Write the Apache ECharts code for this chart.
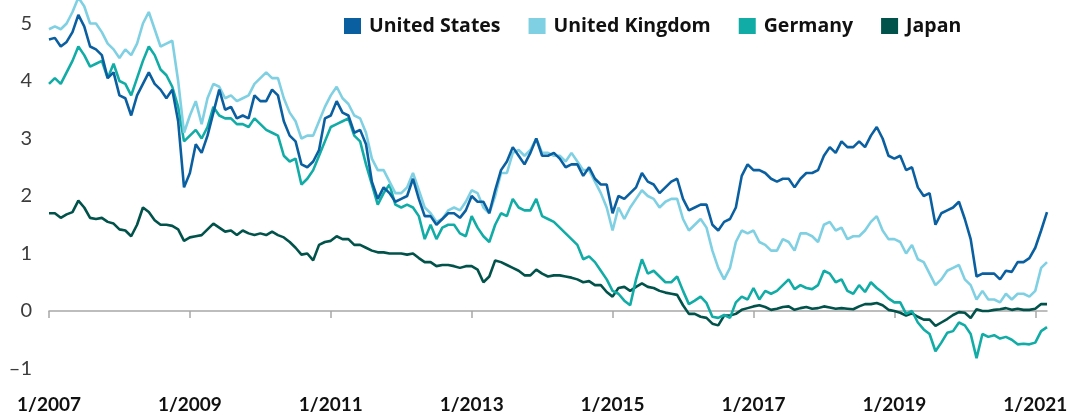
<!DOCTYPE html>
<html>
<head>
<meta charset="utf-8">
<script src="https://cdn.jsdelivr.net/npm/echarts@6/dist/echarts.min.js"></script>
<style>
  html, body { margin: 0; padding: 0; background: #fff; }
  #chart { width: 1081px; height: 415px; }
</style>
</head>
<body>
<div id="chart"></div>
<script>
// monthly readings, 1/2007 .. 3/2021
const startYear = 2007
const monthCount = 171
const names = ['United States', 'United Kingdom', 'Germany', 'Japan']
const colors = ['#0a5fa0', '#7fd0e2', '#12aca6', '#00524a']

const us = [
  4.72, 4.75, 4.60, 4.68, 4.85, 5.15, 4.95, 4.60, 4.55, 4.45, 4.05, 4.15,
  3.75, 3.70, 3.40, 3.75, 3.95, 4.15, 3.95, 3.85, 3.70, 3.85, 3.30, 2.15,
  2.40, 2.90, 2.75, 3.05, 3.45, 3.85, 3.50, 3.55, 3.35, 3.40, 3.35, 3.75,
  3.65, 3.65, 3.85, 3.75, 3.30, 3.05, 2.95, 2.55, 2.50, 2.60, 2.80, 3.35,
  3.40, 3.65, 3.45, 3.40, 3.10, 3.15, 2.90, 2.25, 1.95, 2.15, 2.05, 1.90,
  1.95, 2.00, 2.30, 1.95, 1.65, 1.65, 1.50, 1.60, 1.70, 1.70, 1.62, 1.75,
  2.00, 1.90, 1.90, 1.70, 2.10, 2.45, 2.60, 2.85, 2.70, 2.55, 2.75, 3.00,
  2.70, 2.70, 2.75, 2.65, 2.50, 2.55, 2.55, 2.35, 2.50, 2.30, 2.20, 2.20,
  1.70, 2.00, 1.95, 2.05, 2.15, 2.40, 2.25, 2.20, 2.05, 2.15, 2.25, 2.30,
  1.95, 1.75, 1.80, 1.85, 1.85, 1.50, 1.40, 1.55, 1.60, 1.80, 2.35, 2.55,
  2.45, 2.45, 2.40, 2.30, 2.25, 2.30, 2.30, 2.15, 2.30, 2.40, 2.40, 2.45,
  2.70, 2.85, 2.75, 2.95, 2.85, 2.85, 2.95, 2.85, 3.05, 3.20, 3.00, 2.70,
  2.65, 2.70, 2.45, 2.50, 2.15, 2.00, 2.05, 1.50, 1.70, 1.75, 1.80, 1.90,
  1.60, 1.25, 0.60, 0.65, 0.65, 0.65, 0.55, 0.70, 0.68, 0.85, 0.85, 0.92,
  1.10, 1.40, 1.72
]
const uk = [
  4.90, 4.95, 4.90, 5.00, 5.20, 5.45, 5.30, 5.00, 5.00, 4.85, 4.65, 4.55,
  4.40, 4.55, 4.45, 4.65, 5.00, 5.20, 4.90, 4.60, 4.65, 4.70, 4.00, 3.10,
  3.40, 3.65, 3.25, 3.70, 3.95, 3.90, 3.70, 3.75, 3.65, 3.70, 3.75, 3.95,
  4.05, 4.15, 4.05, 4.05, 3.70, 3.45, 3.30, 3.00, 3.05, 3.05, 3.30, 3.55,
  3.75, 3.90, 3.70, 3.60, 3.40, 3.35, 3.10, 2.65, 2.45, 2.45, 2.25, 2.05,
  2.05, 2.15, 2.40, 2.10, 1.80, 1.70, 1.55, 1.60, 1.75, 1.80, 1.75, 1.90,
  2.10, 2.05, 1.80, 1.70, 2.00, 2.40, 2.40, 2.75, 2.80, 2.70, 2.80, 3.00,
  2.75, 2.75, 2.70, 2.70, 2.60, 2.75, 2.60, 2.45, 2.45, 2.25, 2.05, 1.80,
  1.40, 1.80, 1.60, 1.80, 1.95, 2.10, 2.00, 1.95, 1.80, 1.90, 1.95, 1.95,
  1.60, 1.40, 1.50, 1.60, 1.45, 1.05, 0.75, 0.55, 0.75, 1.20, 1.40, 1.35,
  1.40, 1.20, 1.15, 1.05, 1.05, 1.25, 1.20, 1.05, 1.35, 1.35, 1.30, 1.20,
  1.50, 1.55, 1.40, 1.45, 1.25, 1.30, 1.30, 1.40, 1.55, 1.65, 1.40, 1.25,
  1.25, 1.20, 1.00, 1.15, 0.90, 0.85, 0.65, 0.45, 0.55, 0.70, 0.75, 0.80,
  0.55, 0.45, 0.20, 0.35, 0.20, 0.20, 0.15, 0.30, 0.20, 0.30, 0.30, 0.25,
  0.35, 0.75, 0.85
]
const germany = [
  3.95, 4.05, 3.95, 4.15, 4.35, 4.60, 4.45, 4.25, 4.30, 4.35, 4.05, 4.30,
  4.00, 3.95, 3.75, 4.05, 4.35, 4.60, 4.45, 4.20, 4.10, 3.90, 3.55, 2.95,
  3.05, 3.15, 3.00, 3.20, 3.55, 3.40, 3.35, 3.35, 3.25, 3.25, 3.20, 3.35,
  3.25, 3.15, 3.10, 3.05, 2.70, 2.60, 2.65, 2.20, 2.30, 2.45, 2.70, 2.95,
  3.20, 3.25, 3.30, 3.35, 3.05, 2.95, 2.55, 2.20, 1.85, 2.05, 2.20, 1.85,
  1.80, 1.85, 1.80, 1.65, 1.25, 1.50, 1.25, 1.45, 1.50, 1.50, 1.35, 1.30,
  1.65, 1.45, 1.30, 1.20, 1.50, 1.70, 1.65, 1.95, 1.80, 1.75, 1.75, 1.95,
  1.65, 1.60, 1.55, 1.45, 1.35, 1.25, 1.15, 0.90, 0.95, 0.85, 0.70, 0.55,
  0.35, 0.30, 0.18, 0.10, 0.55, 0.90, 0.65, 0.70, 0.60, 0.50, 0.50, 0.60,
  0.35, 0.12, 0.18, 0.25, 0.14, -0.10, -0.12, -0.07, -0.12, 0.15, 0.25, 0.20,
  0.40, 0.20, 0.35, 0.30, 0.35, 0.45, 0.55, 0.38, 0.45, 0.40, 0.38, 0.45,
  0.70, 0.65, 0.50, 0.55, 0.35, 0.30, 0.45, 0.33, 0.50, 0.40, 0.32, 0.22,
  0.15, 0.15, -0.05, 0.00, -0.20, -0.32, -0.40, -0.70, -0.55, -0.38, -0.35, -0.20,
  -0.25, -0.40, -0.82, -0.40, -0.45, -0.42, -0.48, -0.45, -0.50, -0.58, -0.57, -0.58,
  -0.55, -0.35, -0.28
]
const japan = [
  1.70, 1.70, 1.62, 1.68, 1.72, 1.92, 1.80, 1.62, 1.60, 1.62, 1.55, 1.52,
  1.42, 1.40, 1.30, 1.50, 1.80, 1.72, 1.58, 1.50, 1.50, 1.48, 1.42, 1.22,
  1.28, 1.30, 1.32, 1.42, 1.52, 1.45, 1.38, 1.40, 1.32, 1.40, 1.35, 1.32,
  1.35, 1.32, 1.38, 1.32, 1.28, 1.20, 1.10, 0.98, 1.00, 0.88, 1.15, 1.20,
  1.22, 1.30, 1.25, 1.25, 1.15, 1.15, 1.10, 1.05, 1.02, 1.02, 1.00, 1.00,
  1.00, 0.98, 1.00, 0.92, 0.85, 0.85, 0.78, 0.80, 0.80, 0.78, 0.75, 0.78,
  0.78, 0.72, 0.50, 0.60, 0.88, 0.85, 0.80, 0.75, 0.70, 0.62, 0.62, 0.72,
  0.65, 0.60, 0.62, 0.62, 0.60, 0.58, 0.55, 0.50, 0.52, 0.45, 0.45, 0.33,
  0.25, 0.40, 0.42, 0.35, 0.42, 0.48, 0.42, 0.40, 0.35, 0.32, 0.30, 0.28,
  0.10, -0.05, -0.05, -0.10, -0.12, -0.22, -0.25, -0.08, -0.08, -0.05, 0.02, 0.05,
  0.08, 0.10, 0.07, 0.02, 0.04, 0.07, 0.08, 0.02, 0.05, 0.07, 0.04, 0.05,
  0.08, 0.06, 0.04, 0.05, 0.04, 0.03, 0.08, 0.12, 0.12, 0.14, 0.10, 0.02,
  0.00, -0.03, -0.08, -0.04, -0.10, -0.15, -0.15, -0.26, -0.20, -0.14, -0.07, -0.02,
  -0.03, -0.12, 0.03, 0.00, 0.00, 0.02, 0.03, 0.05, 0.02, 0.04, 0.02, 0.02,
  0.04, 0.12, 0.12
]

// month labels like 1/2007
const months = []
for (let i = 0; i < monthCount; i++) {
  months.push((i % 12 + 1) + '/' + (startYear + Math.floor(i / 12)))
}
// ticks and labels on January of odd years
const isTick = (idx, val) => {
  const p = val.split('/')
  return p[0] === '1' && (+p[1] - startYear) % 2 === 0
}

const chart = echarts.init(document.getElementById('chart'))
const font = 'Lato, "Open Sans", sans-serif'

const mkSeries = (name, data, i) => ({
  name: name,
  type: 'line',
  xAxisIndex: 0,
  data: data,
  showSymbol: false,
  clip: false,
  lineStyle: { width: 2.6, color: colors[i] },
  itemStyle: { color: colors[i] }
})

chart.setOption({
  animation: false,
  textStyle: { fontFamily: font },
  legend: {
    data: names,
    top: 11,
    left: 339,
    icon: 'rect',
    itemWidth: 17,
    itemHeight: 16,
    itemGap: 28,
    textStyle: { fontFamily: '"Open Sans", sans-serif', fontWeight: 'bold', fontSize: 19.5, color: '#111', padding: [0, 0, 0, 3] }
  },
  grid: { left: 49, right: 34, top: 23.5, bottom: 46.5 },
  xAxis: [
    {
      type: 'category',
      data: months,
      boundaryGap: false,
      axisLine: { onZero: true, lineStyle: { color: '#a8a8a8', width: 1.5 } },
      axisTick: { interval: isTick, length: 7, lineStyle: { color: '#a8a8a8', width: 1.5 } },
      axisLabel: { show: false },
      splitLine: { show: false }
    },
    {
      type: 'category',
      data: months,
      boundaryGap: false,
      position: 'bottom',
      axisLine: { show: false, onZero: false },
      axisTick: { show: false },
      axisLabel: {
        interval: isTick,
        margin: 27,
        fontFamily: font,
        fontWeight: 'bold',
        fontSize: 19,
        color: '#111'
      },
      splitLine: { show: false }
    }
  ],
  yAxis: {
    type: 'value',
    min: -1,
    max: 5,
    interval: 1,
    axisLine: { show: false },
    axisTick: { show: false },
    splitLine: { show: false },
    axisLabel: {
      margin: 17,
      fontFamily: font,
      fontSize: 20,
      color: '#3c3c3c',
      formatter: v => (v < 0 ? '\u2013' + Math.abs(v) : '' + v)
    }
  },
  series: [
    mkSeries(names[3], japan, 3),
    mkSeries(names[2], germany, 2),
    mkSeries(names[1], uk, 1),
    mkSeries(names[0], us, 0)
  ]
})
window.addEventListener('resize', () => chart.resize())
</script>
</body>
</html>
